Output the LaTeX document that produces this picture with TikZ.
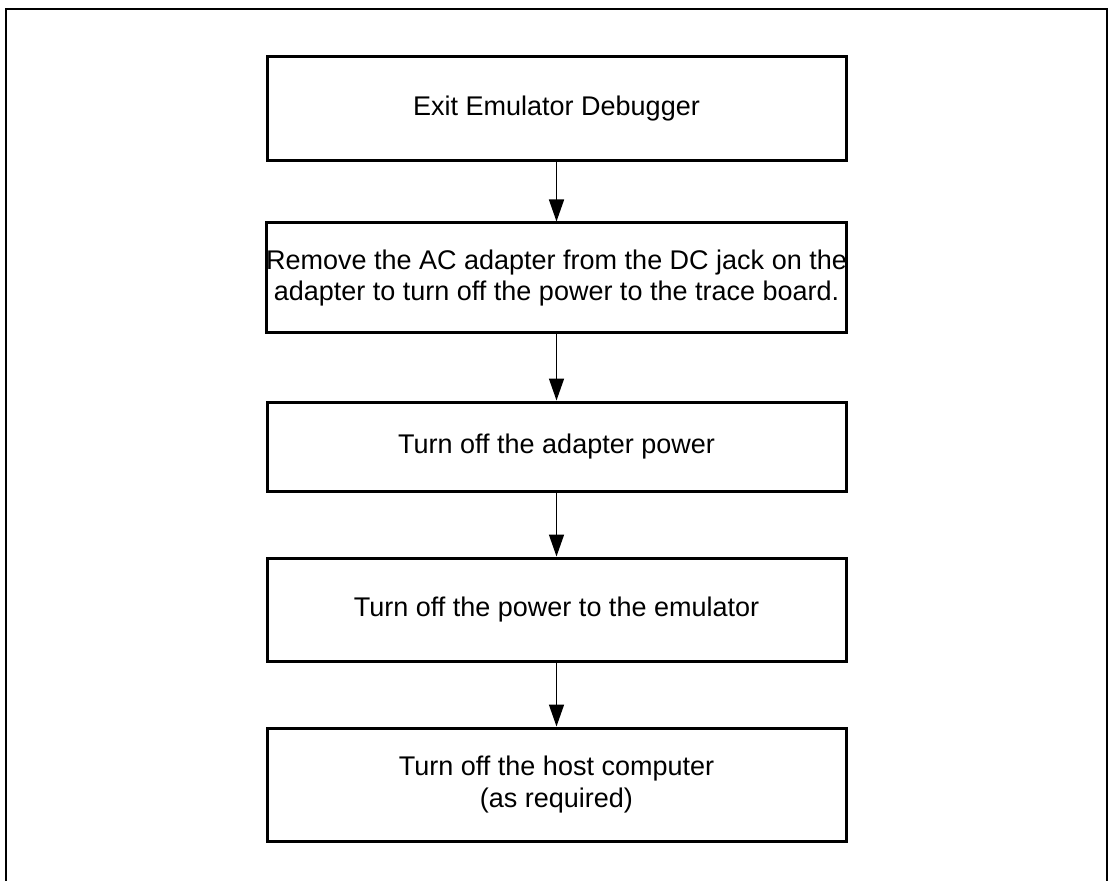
\documentclass[tikz,border=0pt]{standalone}
\usepackage{fontspec}
\setmainfont{Liberation Sans}
\usetikzlibrary{arrows.meta}

\begin{document}
\begin{tikzpicture}[x=0.5pt,y=0.5pt,yscale=-1,xscale=1,
  stepbox/.style={draw, line width=1.5pt, minimum width=289.5pt, inner sep=0pt, align=center,
    font=\fontsize{13.5pt}{15.8pt}\selectfont},
  flow/.style={line width=0.75pt, -{Triangle[length=11pt,width=7.5pt]}}]
\useasboundingbox (0,0) rectangle (1111,881);

%Shape: Frame
\draw [line width=1pt] (6,881) -- (6,9) -- (1107,9) -- (1107,881) ;

%Shape: Rectangle
\node [stepbox, minimum height=52pt] (exit) at (556.5,109) {Exit Emulator Debugger};
%Shape: Rectangle
\node [stepbox, minimum height=55pt] (adapter) at (556.5,278) {Remove the AC adapter from the DC jack on the\\adapter to turn off the power to the trace board.};
%Shape: Rectangle
\node [stepbox, minimum height=44.5pt] (power) at (556.5,446.5) {Turn off the adapter power};
%Shape: Rectangle
\node [stepbox, minimum height=51.5pt] (emul) at (556.5,609.5) {Turn off the power to the emulator};
%Shape: Rectangle
\node [stepbox, minimum height=56.5pt] (host) at (556.5,784.5) {Turn off the host computer\\(as required)};

%Straight Lines
\draw [flow] (exit) -- (adapter) ;
\draw [flow] (adapter) -- (power) ;
\draw [flow] (power) -- (emul) ;
\draw [flow] (emul) -- (host) ;

\end{tikzpicture}
\end{document}
